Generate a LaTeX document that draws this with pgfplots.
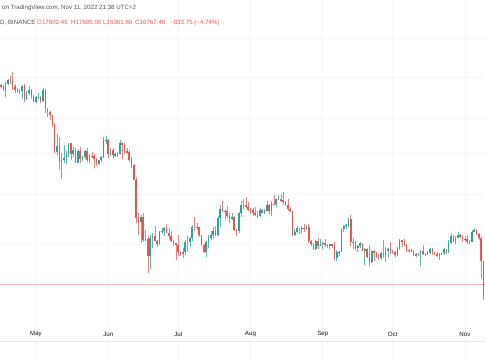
\documentclass[border=0pt]{standalone}
\usepackage{pgfplots}
\pgfplotsset{compat=1.18}
\usepackage{pgfplotstable}
\usepackage{fontspec}
\setmainfont{Liberation Sans}
\definecolor{upc}{HTML}{26A69A}
\definecolor{dnc}{HTML}{EF5350}
\definecolor{gridc}{HTML}{F4F6FA}
\definecolor{sepc}{HTML}{E3E6EC}
\definecolor{txtc}{HTML}{131722}
\definecolor{hdrc}{HTML}{50535E}

% day index: 0 = 15 Apr 2022
\pgfplotstableread{
d O H L C
0 39940 40890 39770 40550
3 39680 41120 38540 40800
4 40800 41760 40570 41500
10 39450 40620 38200 40430
12 38110 39470 37880 39240
13 39240 40370 38880 39740
16 37640 38680 37390 38470
17 38470 39170 38050 38530
19 37720 40020 37670 39690
25 30080 32660 29730 31010
27 28940 30040 26700 29030
28 29030 31080 28750 29290
29 29290 30330 28610 29860
30 29860 31400 29480 31300
32 29860 30760 29450 30420
34 28680 30530 28670 30290
36 29170 29600 28950 29430
37 29430 30440 29250 30280
39 29090 29810 28660 29650
43 28620 29100 28480 29020
44 29020 29600 28820 29450
45 29450 32200 29300 31720
46 31720 32400 31200 31780
48 29800 30680 29580 30450
50 29700 29950 29450 29850
51 29850 30170 29480 29900
52 29900 31760 29880 31370
61 22120 22800 20080 22580
63 20380 21340 20250 20450
65 19000 20800 17950 20550
66 20550 21000 19640 20700
69 19980 21210 19890 21100
70 21100 21520 20950 21230
71 21230 21600 20750 21490
79 19240 19650 18780 19300
80 19300 20360 19050 20230
82 20190 20650 19770 20550
83 20550 21830 20250 21620
89 19330 20250 18910 20210
90 20210 20880 19640 20580
91 20580 21200 20380 20830
92 20830 21560 20480 21190
94 20790 22700 20760 22430
95 22430 23760 21580 23390
100 22450 23010 22250 22580
103 21250 23100 21040 22950
104 22950 24200 22580 23850
112 22620 23460 22590 23310
114 22960 23370 22870 23170
115 23170 24240 23150 23810
117 23150 24220 22680 23950
119 23940 24450 23600 24400
120 24400 24890 24290 24440
127 20830 21380 20770 21140
128 21140 21690 21060 21520
130 21400 21650 20890 21530
132 21370 21820 21310 21560
136 19550 20390 19530 20290
138 19800 20480 19800 20050
139 20050 20200 19580 20130
142 19830 20020 19600 20000
145 18790 19460 18540 19290
146 19290 19450 19010 19320
147 19320 21450 19300 21360
148 21360 21800 21110 21650
149 21650 21860 21360 21830
150 21830 22490 21550 22400
152 20170 20540 19620 20240
154 19700 19900 19320 19800
155 19800 20190 19700 20110
157 19420 19680 18230 19540
160 18490 19500 18360 19410
164 18800 19320 18680 19230
166 19080 19790 18470 19410
167 19410 19650 18850 19590
171 19060 19720 18960 19630
172 19630 20480 19510 20340
177 19420 19560 19320 19450
180 19060 19220 18970 19160
181 19160 19510 18190 19380
184 19070 19420 19070 19270
185 19270 19680 19160 19550
189 19040 19250 18660 19170
190 19170 19250 19110 19210
191 19210 19700 19070 19570
193 19330 20410 19240 20090
194 20090 21020 20060 20770
196 20290 20750 20000 20600
197 20600 21080 20560 20820
202 20160 20390 20030 20210
203 20210 21300 20180 21150
204 21150 21480 21080 21300
}\upt

\pgfplotstableread{
d O H L C
1 40550 40710 40000 40380
2 40380 40620 39540 39680
5 41500 42200 40820 41360
6 41360 42980 39750 40480
7 40480 40800 39180 39710
8 39710 39990 39310 39470
9 39470 39930 39020 39450
11 40430 40800 37700 38110
14 39740 39920 38180 38600
15 38600 38800 37580 37640
18 38530 38650 37500 37720
20 39690 39850 35860 36550
21 36550 36660 35260 36010
22 36010 36130 34770 35470
23 35470 35500 33710 34040
24 34040 34250 30030 30080
26 31010 32190 27790 28940
31 31300 31310 29100 29860
33 30420 30660 28640 28680
35 30290 30750 28730 29170
38 30280 30650 28850 29090
40 29650 30190 29300 29540
41 29540 29830 28020 29200
42 29200 29380 28260 28620
47 31780 31980 29300 29800
49 30450 30670 29330 29700
53 31370 31560 29220 31120
54 31120 31330 29860 30200
55 30200 30700 29940 30100
56 30100 30340 28850 29090
57 29090 29440 28100 28380
58 28380 28560 26560 26580
59 26580 26900 21930 22470
60 22470 23000 20850 22120
62 22580 22980 20230 20380
64 20450 20780 17620 19000
67 20700 21720 20350 20280
68 20280 20420 19740 19980
72 21490 21860 21000 21040
73 21040 21520 20510 20730
74 20730 21180 20180 20280
75 20280 20420 19850 20100
76 20100 20140 18630 19930
77 19930 20880 18980 19300
78 19300 19430 19000 19240
81 20230 20740 19300 20190
84 21620 22530 21200 21590
85 21590 21950 21330 21580
86 21580 21600 20650 20850
87 20850 20860 19880 19960
88 19960 20050 19240 19330
93 21190 21680 20770 20790
96 23390 24280 23030 23230
97 23230 23420 22340 23160
98 23160 23750 22500 22680
99 22680 22990 21950 22450
101 22580 22650 21250 21310
102 21310 21360 20710 21250
105 23850 24440 23410 23770
106 23770 24660 23520 23640
107 23640 24170 23230 23300
108 23300 23500 22850 23270
109 23270 23450 22660 22980
110 22980 23640 22680 22820
111 22820 23220 22440 22620
113 23310 23350 22940 22960
116 23810 23940 22880 23150
118 23950 24920 23870 23940
121 24440 25050 24130 24310
122 24310 25210 23800 24100
123 24100 24250 23700 23850
124 23850 24450 23200 23340
125 23340 23600 23120 23190
126 23190 23200 20780 20830
129 21520 21540 20890 21400
131 21530 21900 21150 21370
133 21560 21890 20110 20250
134 20250 20340 19800 20030
135 20030 20150 19520 19550
137 20290 20560 19540 19800
140 20130 20440 19760 19950
141 19950 20050 19650 19830
143 20000 20050 19630 19800
144 19800 20180 18650 18790
151 22400 22800 19860 20170
153 20240 20330 19500 19700
156 20110 20130 19370 19420
158 19540 19630 18770 18880
159 18880 19950 18130 18490
161 19410 19500 18530 19300
162 19300 19310 18820 18930
163 18930 19180 18630 18800
165 19230 20380 18820 19080
168 19590 20190 19160 19430
169 19430 19480 19160 19310
170 19310 19400 18920 19060
173 20340 20370 19730 20160
174 20160 20460 19850 19960
175 19960 20060 19340 19530
176 19530 19620 19250 19420
178 19450 19530 19020 19140
179 19140 19270 18860 19060
182 19380 19950 19070 19180
183 19180 19230 18980 19070
186 19550 19700 19100 19330
187 19330 19350 19070 19120
188 19120 19350 18900 19040
192 19570 19600 19160 19330
195 20770 20860 20220 20290
198 20820 20930 20520 20630
199 20630 20840 20240 20490
200 20490 20700 20330 20480
201 20480 20800 20050 20160
205 21300 21370 20880 20900
206 20900 21060 20390 20590
207 20590 20670 17170 18540
208 18540 18600 15590 15880
}\dnt

\begin{document}
\begin{tikzpicture}
\begin{axis}[
  name=main,
  width=485bp, height=360bp, scale only axis,
  xmin=0.56, xmax=208.6,
  ymode=log, ymin=11956, ymax=59210,
  axis line style={draw=none},
  tick style={draw=none},
  xtick={16,47,77,108,139,169,200},
  xticklabels={May,Jun,Jul,Aug,Sep,Oct,Nov},
  x tick label style={anchor=center, yshift=26bp, font=\fontsize{6.2}{7}\selectfont, text=txtc},
  xmajorgrids,
  ytick={20000,25000,30000,35000,42000,50000},
  yticklabels={},
  y tick label style={inner sep=0pt, outer sep=0pt},
  ymajorgrids,
  grid style={color=gridc, line width=0.5bp},
  extra y ticks={13010},
  extra y tick labels={},
  extra y tick style={grid style={color=sepc, line width=0.7bp}},
]
% price line
\addplot[color=dnc!40, line width=0.5bp, forget plot] coordinates {(0.56,16767) (208.6,16767)};

% wicks
\addplot[draw=none, mark=none, forget plot,
  error bars/.cd, y dir=both, y explicit, error mark=none,
  error bar style={draw=upc!75, line width=0.55bp}]
  table[x=d, y expr={(\thisrow{H}+\thisrow{L})/2},
        y error plus expr={(\thisrow{H}-\thisrow{L})/2},
        y error minus expr={(\thisrow{H}-\thisrow{L})/2}] {\upt};
\addplot[draw=none, mark=none, forget plot,
  error bars/.cd, y dir=both, y explicit, error mark=none,
  error bar style={draw=dnc!75, line width=0.55bp}]
  table[x=d, y expr={(\thisrow{H}+\thisrow{L})/2},
        y error plus expr={(\thisrow{H}-\thisrow{L})/2},
        y error minus expr={(\thisrow{H}-\thisrow{L})/2}] {\dnt};
% bodies
\addplot[draw=none, mark=none, forget plot,
  error bars/.cd, y dir=both, y explicit, error mark=none,
  error bar style={draw=upc, line width=1.6bp}]
  table[x=d, y expr={(\thisrow{O}+\thisrow{C})/2},
        y error plus expr={max(abs(\thisrow{C}-\thisrow{O})/2,15)},
        y error minus expr={max(abs(\thisrow{C}-\thisrow{O})/2,15)}] {\upt};
\addplot[draw=none, mark=none, forget plot,
  error bars/.cd, y dir=both, y explicit, error mark=none,
  error bar style={draw=dnc, line width=1.6bp}]
  table[x=d, y expr={(\thisrow{O}+\thisrow{C})/2},
        y error plus expr={max(abs(\thisrow{C}-\thisrow{O})/2,15)},
        y error minus expr={max(abs(\thisrow{C}-\thisrow{O})/2,15)}] {\dnt};

% header
\node[anchor=base west, inner sep=0, font=\fontsize{6.2}{7}\selectfont, text=hdrc] at (rel axis cs:0.004,0.9736) {on TradingView.com, Nov 11, 2022 21:38 UTC+2};
\node[anchor=base west, inner sep=0, font=\fontsize{6.2}{7}\selectfont, text=hdrc] at (rel axis cs:0.0,0.9319) {D, BINANCE};
\node[anchor=base west, inner sep=0, font=\fontsize{6.2}{7}\selectfont, text=dnc] at (rel axis cs:0.0763,0.9319) {O17602.45};
\node[anchor=base west, inner sep=0, font=\fontsize{6.2}{7}\selectfont, text=dnc] at (rel axis cs:0.1464,0.9319) {H17695.00};
\node[anchor=base west, inner sep=0, font=\fontsize{6.2}{7}\selectfont, text=dnc] at (rel axis cs:0.2124,0.9319) {L16361.60};
\node[anchor=base west, inner sep=0, font=\fontsize{6.2}{7}\selectfont, text=dnc] at (rel axis cs:0.2784,0.9319) {C16767.40};
\node[anchor=base west, inner sep=0, font=\fontsize{6.2}{7}\selectfont, text=dnc] at (rel axis cs:0.3505,0.9319) {−833.75 (−4.74\%)};
\end{axis}
\pgfresetboundingbox
\useasboundingbox (main.south west) rectangle (main.north east);
\end{tikzpicture}
\end{document}
